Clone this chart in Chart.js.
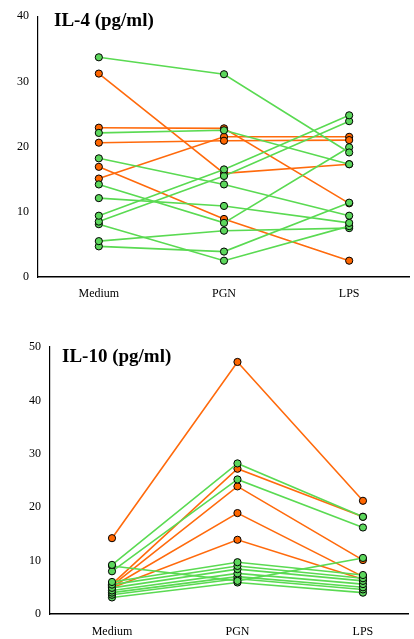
<!DOCTYPE html>
<html>
<head>
<meta charset="utf-8">
<script src="https://cdn.jsdelivr.net/npm/chart.js@4.4.0/dist/chart.umd.min.js"></script>
<style>
    body { margin: 0; background: #fff; }
    .box { position: absolute; left: 0; width: 414px; }
    .title {
        position: absolute;
        font-family: "Liberation Serif", serif;
        font-weight: bold;
        font-size: 19px;
        color: #000;
        white-space: nowrap;
    }
</style>
</head>
<body>
<div class="box" style="top:0;height:310px">
    <canvas id="il4Chart" width="414" height="310"></canvas>
    <div class="title" style="left:54px;top:9px">IL-4 (pg/ml)</div>
</div>
<div class="box" style="top:320px;height:319px">
    <canvas id="il10Chart" width="414" height="319"></canvas>
    <div class="title" style="left:62px;top:25px">IL-10 (pg/ml)</div>
</div>
<script>
// ==============================
// DATA
// ==============================
const categories = ["Medium", "PGN", "LPS"];

const il4Ticks = [0, 10, 20, 30, 40];
const il10Ticks = [0, 10, 20, 30, 40, 50];

// IL-4, one row per subject: Medium, PGN, LPS
const il4Green = [
    [33.7, 31.1, 19.1],
    [22.1, 22.5, 17.3],
    [18.2, 14.2, 9.4],
    [14.2, 8.3, 19.9],
    [12.1, 10.9, 8.3],
    [9.4, 16.5, 24.8],
    [8.5, 15.5, 23.9],
    [8.1, 2.5, 7.8],
    [5.5, 7.1, 7.5],
    [4.7, 3.9, 11.4]
];
const il4Orange = [
    [31.2, 15.9, 17.3],
    [22.9, 22.8, 11.3],
    [20.6, 20.9, 21.0],
    [15.1, 21.5, 21.5],
    [16.9, 8.9, 2.5]
];

// IL-10
const il10Green = [
    [9.2, 28.2, 18.2],
    [8.0, 25.2, 16.2],
    [9.0, 6.2, 10.5],
    [6.0, 9.7, 7.3],
    [5.5, 9.0, 6.7],
    [4.9, 8.4, 6.2],
    [4.4, 7.6, 5.6],
    [4.0, 7.0, 5.0],
    [3.6, 6.6, 4.6],
    [3.1, 5.9, 4.0]
];
const il10Orange = [
    [14.2, 47.2, 21.2],
    [5.6, 27.2, 18.2],
    [5.3, 23.9, 10.1],
    [5.1, 18.9, 7.0],
    [4.9, 13.9, 6.5]
];

const GREEN_LINE = "#5ada52";
const GREEN_DOT = "#5cd65c";
const ORANGE_LINE = "#ff6a0c";
const ORANGE_DOT = "#ff6600";

// ==============================
// HELPERS
// ==============================
function makeSets(rows, lineColor, dotColor) {
    return rows.map(r => ({
        data: r.map((v, i) => ({ x: i + 1, y: v })),
        borderColor: lineColor,
        borderWidth: 1.6,
        pointRadius: 3.6,
        pointBackgroundColor: dotColor,
        pointBorderColor: "#000",
        pointBorderWidth: 1,
        tension: 0
    }));
}

const tickFont = { family: "'Liberation Serif', serif", size: 12 };

function drawChart(id, green, orange, ticks, o) {
    new Chart(document.getElementById(id), {
        type: "line",
        data: {
            // greens first so they are painted on top
            datasets: makeSets(green, GREEN_LINE, GREEN_DOT)
                .concat(makeSets(orange, ORANGE_LINE, ORANGE_DOT))
        },
        options: {
            responsive: false,
            animation: false,
            devicePixelRatio: 1,
            layout: { padding: { top: o.top, right: o.right, left: 0, bottom: 0 } },
            plugins: { legend: { display: false }, tooltip: { enabled: false } },
            scales: {
                x: {
                    type: "linear",
                    min: o.xmin,
                    max: o.xmax,
                    grid: { display: false, drawTicks: false },
                    border: { display: true, color: "#000", width: 1.5 },
                    afterBuildTicks: s => { s.ticks = categories.map((c, i) => ({ value: i + 1 })); },
                    afterFit: s => { s.height = o.xh; },
                    ticks: {
                        color: "#000",
                        font: tickFont,
                        padding: o.xpad,
                        maxRotation: 0,
                        callback: v => categories[v - 1]
                    }
                },
                y: {
                    min: ticks[0],
                    max: ticks[ticks.length - 1],
                    grid: { display: false, drawTicks: false },
                    border: { display: true, color: "#000", width: 1.2 },
                    afterBuildTicks: s => { s.ticks = ticks.map(v => ({ value: v })); },
                    afterFit: s => { s.width = o.yw; },
                    ticks: { color: "#000", font: tickFont, padding: 9 }
                }
            }
        }
    });
}

// ==============================
// INIT
// ==============================
drawChart("il4Chart", il4Green, il4Orange, il4Ticks,
    { top: 12, right: 4, xmin: 0.514, xmax: 3.478, xh: 33, xpad: 10, yw: 38 });

drawChart("il10Chart", il10Green, il10Orange, il10Ticks,
    { top: 27, right: 6, xmin: 0.506, xmax: 3.359, xh: 25, xpad: 11, yw: 50 });
</script>
</body>
</html>
